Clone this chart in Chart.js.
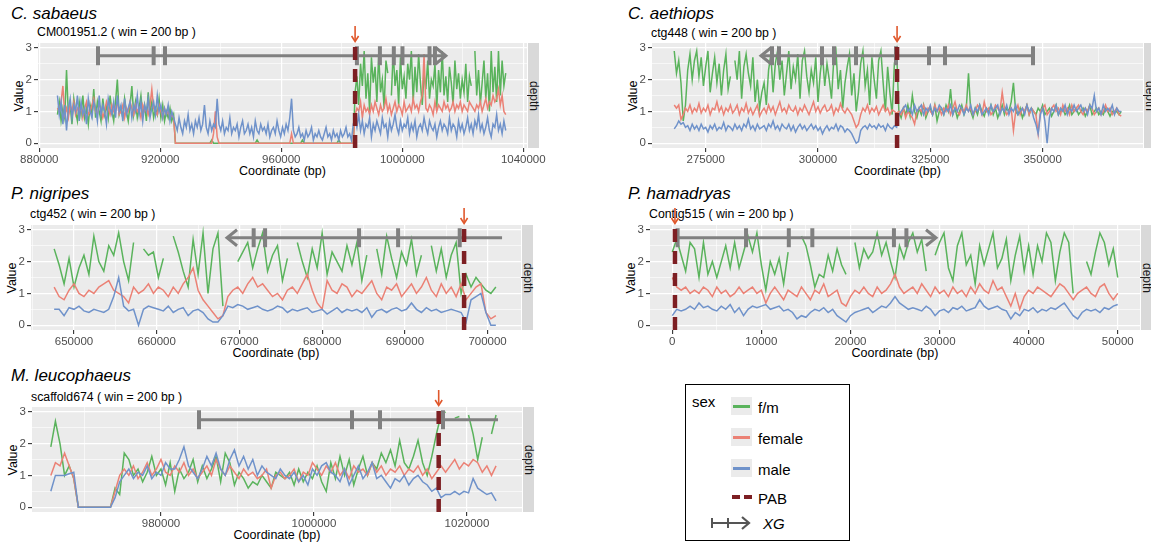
<!DOCTYPE html>
<html><head><meta charset="utf-8">
<script src="https://cdn.jsdelivr.net/npm/chart.js@4.4.1/dist/chart.umd.min.js"></script>
<style>
html,body{margin:0;padding:0;background:#ffffff;}
body{width:1151px;height:546px;position:relative;overflow:hidden;font-family:'Liberation Sans',Arial,Helvetica,sans-serif;}
canvas{position:absolute;}
.t{position:absolute;white-space:nowrap;line-height:1;color:#000;}
</style></head><body>
<script>
// ---------------- DATA ----------------
const SPECIES = ['C. sabaeus','C. aethiops','P. nigripes','P. hamadryas','M. leucophaeus'];
const CONTIGS = ['CM001951.2 ( win = 200 bp )','ctg448 ( win = 200 bp )','ctg452 ( win = 200 bp )','Contig515 ( win = 200 bp )','scaffold674 ( win = 200 bp )'];
const X_TITLE = 'Coordinate (bp)';
const Y_TITLE = 'Value';
const STRIP = 'depth';
const LEGEND_TITLE = 'sex';
const LEGEND_SERIES = ['f/m','female','male'];
const LEGEND_PAB = 'PAB';
const LEGEND_GENE = 'XG';

const Y_MAJOR = [0,1,2,3];
const Y_MINOR = [0.5,1.5,2.5];
const Y_MIN = -0.15, Y_MAX = 3.15;
const XG_Y = 2.75;

// Panel 1: C. sabaeus (windows every 600 bp from 886000)
const P1_START = 886000, P1_STEP = 600;
const P1_FM = [
 0.9,1.3,0.7,1.1,0.8,2.3,0.9,1.2,0.6,1.4, 1.0,0.7,1.3,0.9,1.5,0.8,1.1,0.6,1.2,0.9, 1.7,0.8,1.3,1.0,0.7,1.4,0.9,1.2,0.8,1.5,
 1.0,0.7,1.3,2.0,0.9,1.1,0.8,1.4,1.0,0.7, 1.2,1.8,0.9,1.3,0.8,1.1,1.5,0.9,1.2,0.7, 1.6,1.0,1.3,0.8,1.1,0.9,1.4,0.8,1.2,0.7, 1.0,0.8,1.1,0.7,0.9,
 0,0,0,0,0,0,0,0,0,0, 0,0,0,0,0,0,0,0,0,0, 0.1,0,0,0,0,0,0,0,0,0, 0,0,0,0,0,0,0,0,0,0, 0,0,0,0,0,0.1,0,0,0,0,
 0,0,0,0,0,0,0,0,0,0, 0,0,0,0,0,0,0,0,0,0, 0.1,0,0,0,0,0,0,0,0,0, 0,0,0,0,0,0,0,0,0,0, 0.1,0,0,0,0,0,0,0,0,
 1.6,2.1,1.2,2.5,1.8,2.9,1.4,2.2,1.0,2.7, 1.9,2.4,1.3,2.8,1.6,2.0,1.1,2.6,2.2,null, 1.5,2.9,1.8,2.3,1.2,2.7,1.7,2.1,1.4,2.5,
 2.0,2.9,1.3,2.4,1.6,2.8,1.9,1.2,2.2,1.7, 2.6,1.4,2.0,1.8,2.5,1.1,2.3,1.6,2.9,1.5, 2.1,1.3,2.4,1.9,1.2,2.6,1.7,2.2,1.4,2.0,
 1.6,2.5,1.3,2.1,1.8,null,2.9,1.5,2.3,1.2, 1.9,2.6,1.4,2.2,1.0,2.9,1.6,2.4,1.3,2.9, 1.5,2.6,1.8,2.2];
const P1_FEMALE = [
 1.1,1.0,1.3,1.8,0.9,1.1,0.8,1.2,1.0,1.3, 0.9,1.1,1.0,1.2,0.8,1.1,1.3,0.9,1.0,1.2, 1.4,1.0,0.9,1.2,1.1,0.8,1.0,1.3,1.1,0.9,
 1.2,1.0,1.1,1.3,0.9,1.0,1.2,0.8,1.1,1.0, 1.3,1.1,0.9,1.2,1.0,1.1,0.8,1.2,1.0,1.1, 0.9,1.2,1.7,1.1,1.0,0.9,1.2,1.0,0.8,1.1, 0.9,1.0,0.8,0.9,0.8,
 0,0,0,0,0,0,0,0,0,0, 0,0,0,0,0,0,0,0,0,0, 0,0.3,1.0,0.2,0,0,0,0,0,0, 0,0,0,0,0,0,0,0,0,0, 0,0,0,0,0,0,0,0,0,0,
 0,0,0,0,0,0,0,0,0,0, 0,0,0,0,0.3,0,0,0,0,0, 0,0,0,0,0,0,0,0,0,0, 0,0,0,0,0,0,0,0,0,0, 0,0,0,0,0,0,0,0,0,
 0.9,1.1,1.0,1.3,0.8,1.2,1.0,1.1,0.9,1.2, 1.0,1.3,1.1,0.9,1.2,1.0,1.1,1.4,1.0,1.2, 0.9,1.1,1.3,1.0,1.2,1.1,0.9,1.3,1.0,1.1,
 1.2,1.0,1.4,1.1,1.2,1.0,1.3,1.5,2.8,1.1, 1.0,1.2,1.1,0.9,1.3,1.0,1.2,1.1,1.0,1.3, 1.1,1.2,1.0,1.1,1.3,1.0,1.2,1.1,1.3,1.0,
 1.2,1.1,1.0,1.3,1.2,1.1,1.0,1.2,1.1,1.3, 1.0,1.2,1.4,1.1,1.3,1.2,1.5,1.3,1.4,1.7, 1.2,1.5,1.0,0.9];
const P1_MALE = [
 1.5,0.9,1.3,0.6,1.2,0.4,1.1,1.4,0.8,1.2, 1.0,1.5,0.7,1.3,0.9,1.1,0.6,1.4,1.0,0.8, 1.3,1.1,0.7,1.5,0.9,1.2,1.0,0.6,1.4,1.1,
 0.9,1.3,0.8,1.5,1.0,1.2,0.7,1.4,0.9,1.1, 1.3,0.8,1.2,1.0,1.5,0.9,1.3,0.7,1.2,1.0, 1.4,0.8,1.1,1.3,0.9,1.5,1.0,1.2,0.8,1.1, 0.9,1.2,0.7,1.0,0.8,
 0.6,0.4,0.8,0.5,0.3,0.7,0.5,0.9,0.4,0.6, 0.3,0.7,0.5,0.8,0.4,0.6,1.2,0.5,0.3,0.7, 0.4,0.6,0.5,1.4,0.6,0.4,0.7,0.3,0.5,0.4,
 0.8,0.3,0.5,0.4,0.6,0.2,0.5,0.7,0.3,0.4, 0.6,0.3,0.5,0.2,0.7,0.4,0.3,0.6,0.4,0.5, 0.3,0.6,0.2,0.4,0.5,0.3,0.7,0.4,0.2,0.5,
 0.3,0.6,0.4,0.8,1.4,0.4,0.2,0.3,0.5,0.2, 0.3,0.1,0.4,0.2,0.3,0.5,0.1,0.3,0.2,0.4, 0.2,0.1,0.3,0.5,0.2,0.3,0.1,0.4,0.2,0.3, 0.1,0.4,0.2,0.3,0.5,0.2,0.3,0.1,0.6,
 0.8,0.5,0.9,0.4,0.7,0.3,0.6,0.5,0.8,0.2, 0.6,0.4,0.7,0.5,0.3,0.8,0.5,0.6,0.2,0.7, 0.4,0.6,0.9,0.5,0.3,0.7,0.4,0.6,0.5,0.8,
 0.3,0.6,0.4,0.7,0.2,0.5,0.6,0.4,0.8,0.5, 0.3,0.7,0.5,0.4,0.6,0.2,0.5,0.7,0.4,0.6, 0.5,0.3,0.8,0.4,0.6,0.5,0.2,0.7,0.4,0.6,
 0.3,0.5,0.8,0.4,0.6,0.3,0.7,0.5,0.9,0.4, 0.6,0.3,0.5,0.8,0.4,0.2,0.6,0.5,0.9,0.4, 0.6,0.3,0.7,0.4];
const P1_X_MAJOR = [880000,920000,960000,1000000,1040000];
const P1_X_MINOR = [900000,940000,980000,1020000];
const P1_PAB = 984400;
const P1_XG_SPAN = [899400,1014400];
const P1_XG_TICKS = [899400,917800,921550,985000,992600,997200,1000060,1009000,1010800];

// Panel 2: C. aethiops (windows every 500 bp from 268000)
const P2_START = 268000, P2_STEP = 500;
const P2_FM = [
 2.9,2.2,2.6,1.9,0.7,1.2,2.3,2.8,2.0,2.6, 2.9,2.1,2.7,1.8,2.4,2.9,1.6,2.2,2.7,1.9, 2.5,1.5,2.3,2.8,1.7,2.1,null,2.6,2.0,2.9,
 1.4,2.4,2.8,2.2,1.8,2.7,1.3,2.0,1.1,1.6, 1.9,1.2,2.3,2.8,1.6,2.5,2.9,2.0,2.6,1.5, 2.2,2.9,1.7,2.4,2.0,2.8,1.4,2.6,2.9,2.1,
 1.6,2.3,1.9,2.7,1.3,2.2,2.8,1.8,2.5,2.0, 1.4,2.6,2.9,1.7,2.3,1.1,1.9,2.4,2.8,1.5, 2.2,1.0,1.6,2.5,2.9,1.8,2.3,1.2,2.7,2.0,
 1.4,2.6,2.9,1.9,1.0,2.4,1.6,0.9,2.5,2.9,
 1.0,0.8,1.1,0.9,1.2,0.85,1.5,1.0,0.8,1.1, 0.9,1.2,0.8,1.0,1.1,0.9,1.2,0.7,1.0,1.1, 0.9,1.2,1.0,1.7,0.9,1.1,0.8,1.0,1.2,0.9,
 1.1,2.2,1.0,0.8,1.1,0.9,1.2,1.0,0.85,1.1, 1.0,1.2,0.9,1.1,0.8,1.0,1.2,0.9,1.1,1.0, 1.3,1.9,1.0,0.9,1.1,0.8,1.0,1.2,0.9,1.1,
 1.0,0.9,1.1,1.0,1.2,0.9,1.0,1.1,0.85,1.0, 1.2,0.9,1.0,1.1,0.9,1.0,1.2,0.9,1.0,1.1, 0.9,1.0,1.1,0.85,1.0,1.2,0.9,1.0,1.1,0.9,
 1.0,0.9,1.1,1.0,0.85,1.0,0.95,1.0,0.9,1.0];
const P2_FEMALE = [
 1.2,1.1,1.2,0.75,0.9,1.1,1.0,1.2,0.95,1.1, 1.0,1.25,0.95,1.1,1.0,1.2,0.9,1.1,1.05,1.3, 1.0,1.15,0.9,1.1,1.0,1.2,0.95,1.05,1.2,0.9,
 1.1,1.0,1.25,0.95,1.1,0.9,1.05,1.2,0.85,1.0, 1.1,0.95,1.2,1.0,1.15,0.9,1.1,1.3,1.0,1.1, 0.95,1.2,1.05,1.0,1.15,0.9,1.1,1.0,1.2,1.05,
 0.9,1.1,1.3,1.0,1.15,0.95,1.1,1.2,1.0,1.05, 1.2,0.9,1.1,1.0,1.25,1.05,0.95,1.1,1.0,0.9, 0.7,0.5,0.6,0.9,1.1,1.0,1.2,0.95,1.1,1.0,
 1.15,0.9,1.05,1.2,1.0,1.1,0.9,1.05,1.0,0.95,
 1.0,0.9,1.1,0.8,1.0,0.9,0.8,0.6,1.0,1.1, 1.0,1.2,0.9,1.1,1.0,0.9,1.2,1.0,1.1,0.9, 1.1,1.0,1.2,0.9,1.1,1.3,1.0,0.9,1.1,1.0,
 1.2,1.0,1.1,0.9,1.0,1.2,1.1,0.9,1.3,1.0, 1.1,0.9,1.0,1.2,1.1,1.0,1.6,1.1,0.9,1.0, 1.1,0.4,1.0,1.2,0.9,1.1,1.0,1.2,0.9,1.1,
 1.0,0.9,0.3,1.0,1.1,1.2,0.9,1.0,1.1,1.2, 1.0,1.1,0.9,1.2,1.0,1.1,0.9,1.2,1.0,1.1, 1.2,1.0,0.9,1.1,1.0,1.2,1.1,0.9,1.0,1.1,
 0.9,1.0,1.2,1.0,1.1,0.9,1.0,1.1,0.9,0.85];
const P2_MALE = [
 0.45,0.55,0.7,0.6,0.65,0.5,0.55,0.4,0.6,0.45, 0.55,0.4,0.6,0.45,0.5,0.35,0.55,0.45,0.6,0.4, 0.5,0.45,0.65,0.4,0.55,0.5,0.4,0.6,0.45,0.55,
 0.4,0.6,0.5,0.75,0.45,0.55,0.4,0.6,0.45,0.5, 0.55,0.4,0.6,0.5,0.7,0.45,0.55,0.4,0.6,0.5, 0.45,0.6,0.4,0.55,0.35,0.5,0.6,0.45,0.55,0.4,
 0.5,0.6,0.45,0.55,0.4,0.5,0.3,0.45,0.55,0.4, 0.5,0.45,0.6,0.4,0.55,0.5,0.35,0.45,0.4,0.3, 0.15,0.0,0.05,0.4,0.5,0.55,0.45,0.6,0.5,0.55,
 0.45,0.6,0.5,0.55,0.4,0.6,0.5,0.45,0.55,0.5,
 0.9,1.0,1.1,1.2,1.0,1.1,0.9,1.2,1.0,1.1, 1.2,0.9,1.1,1.0,1.2,0.9,1.1,1.0,1.2,1.1, 0.9,1.1,1.0,1.2,0.9,1.1,1.0,1.2,1.1,0.9,
 1.1,1.0,1.2,0.9,1.1,1.0,1.2,0.9,1.0,1.1, 0.9,1.2,1.0,1.1,1.2,0.9,1.1,1.0,1.2,0.9, 1.1,1.0,1.2,0.9,1.0,1.1,0.9,1.2,1.0,1.1,
 0.8,0.6,0.3,0.9,1.1,0.7,0.0,0.8,1.1,1.0, 1.2,0.9,1.1,1.0,1.2,0.9,1.1,1.0,1.2,1.0, 1.1,1.2,1.0,1.1,0.9,1.2,1.1,1.5,1.0,1.1,
 0.9,1.2,1.0,1.1,1.0,1.2,0.9,1.1,1.0,1.0];
const P2_X_MAJOR = [275000,300000,325000,350000];
const P2_X_MINOR = [287500,312500,337500,362500];
const P2_PAB = 317600;
const P2_XG_SPAN = [287310,347860];
const P2_XG_TICKS = [289760,291320,300890,303560,308460,317360,324710,328270,347860];

// Panel 3: P. nigripes
const P3_START = 647600, P3_STEP = 600;
const P3_FM = [2.4,1.9,1.3,2.1,1.2,1.8,2.2,1.6,2.8,2.0, 1.7,2.5,2.2,2.9,2.0,1.4,2.6,null,2.4,2.2, 2.3,1.5,2.1,null,2.8,2.3,1.7,1.2,2.7,1.6, 2.9,1.0,2.4,2.9,0.6,null,null,2.0,2.3,2.6, 1.8,2.4,2.9,1.7,2.2,2.5,1.4,2.1,null,2.6,
 2.0,1.5,2.4,1.8,2.9,1.6,2.3,2.0,1.7,2.5, 1.9,2.6,1.4,2.2,null,2.4,1.6,2.8,2.1,1.5, 2.3,1.9,2.7,1.6,2.2,null,2.5,1.7,2.4,1.5, 2.2,2.6,1.0,1.6,1.2,1.5,1.3,1.1,1.0,1.2];
const P3_FEMALE = [1.2,0.9,0.8,1.1,1.3,1.0,0.9,1.1,1.0,1.2, 1.3,1.4,1.1,1.0,0.9,0.7,1.2,1.0,1.1,1.3, 1.0,1.2,1.1,0.9,1.2,1.0,1.3,1.5,1.8,1.1, 0.8,0.6,0.4,0.2,0.3,0.9,1.1,1.2,1.0,1.3, 1.5,1.2,1.3,1.1,0.9,1.0,0.8,1.1,1.2,1.0,
 1.3,1.6,1.1,0.7,0.5,1.4,1.1,1.0,1.3,1.2, 0.9,1.1,1.0,1.2,1.4,1.0,0.8,1.2,1.1,1.3, 0.9,1.1,1.3,1.0,1.2,1.5,1.1,0.9,1.3,1.0, 1.2,0.9,1.3,0.8,1.0,1.2,1.3,0.4,0.2,0.3];
const P3_MALE = [0.5,0.5,0.3,0.55,0.5,0.6,0.45,0.4,0.5,0.45, 0.4,0.5,0.9,1.5,0.6,0.45,0.5,0.0,0.5,0.6, 0.55,0.5,0.45,0.6,0.4,0.5,0.55,0.3,0.45,0.5, 0.4,0.2,0.1,0.1,0.3,0.6,0.55,0.65,0.6,0.5, 0.55,0.6,0.5,0.45,0.5,0.6,0.55,0.4,0.5,0.45,
 0.5,0.55,0.4,0.45,0.5,0.35,0.45,0.55,0.4,0.5, 0.45,0.5,0.4,0.55,0.25,0.45,0.5,0.4,0.5,0.55, 0.45,0.5,0.7,0.5,0.4,0.55,0.45,0.5,0.4,0.45, 0.5,0.45,0.4,0.1,0.8,0.9,1.0,0.4,0.0,0.0];
const P3_X_MAJOR = [650000,660000,670000,680000,690000,700000];
const P3_X_MINOR = [645000,655000,665000,675000,685000,695000];
const P3_PAB = 697160;
const P3_XG_SPAN = [668500,701750];
const P3_XG_TICKS = [671720,673100,684460,689180,696630];

// Panel 4: P. hamadryas
const P4_START = 0, P4_STEP = 500;
const P4_FM = [2.3,2.7,2.2,1.7,2.6,2.4,1.5,2.6,1.6,2.0, 1.5,2.0,2.5,1.8,2.6,1.8,2.3,2.8,2.3,2.9, 1.9,1.1,2.0,1.6,2.1,1.3,2.3,null,null,2.8, 2.5,1.9,1.2,1.6,1.5,2.2,1.7,2.4,1.9,1.6,
 null,2.6,1.8,2.4,2.1,2.3,2.9,2.2,2.6,2.0, 1.5,2.5,2.1,2.6,2.9,2.3,2.7,1.7,null,2.2, 2.6,2.9,1.8,1.4,2.5,2.9,1.9,2.2,1.3,2.5, 1.9,2.4,2.9,1.8,2.1,2.7,1.4,2.2,2.8,1.7, 2.5,1.6,2.5,2.0,2.9,2.6,1.4,2.3,2.9,2.6, 1.0,null,null,2.0,1.6,2.3,2.9,2.6,1.9,2.4,1.5];
const P4_FEMALE = [1.5,1.2,1.1,1.2,1.0,1.1,1.0,1.2,1.1,0.9, 1.2,1.0,1.1,0.9,1.0,1.2,1.0,1.1,1.2,1.0, 1.1,0.7,1.0,1.2,1.0,0.8,1.1,1.0,0.9,1.2, 1.0,0.8,1.1,1.0,1.3,0.9,1.0,1.1,0.7,0.6,
 0.9,1.1,1.0,1.2,1.0,0.9,1.2,1.0,1.1,1.3, 1.6,1.2,1.0,1.1,1.2,1.0,1.3,1.1,0.9,1.2, 1.0,1.1,0.9,1.2,1.0,1.1,0.9,1.2,1.0,1.3, 1.1,1.0,1.4,1.1,1.2,0.9,0.6,1.0,0.5,0.9, 1.1,1.0,1.2,1.1,1.0,0.9,1.1,1.3,1.2,1.0, 0.8,1.0,1.1,1.2,1.0,0.9,1.2,1.3,1.0,0.8,1.0];
const P4_MALE = [0.3,0.5,0.45,0.5,0.6,0.5,0.7,0.55,0.6,0.5, 0.45,0.6,0.5,0.65,0.4,0.55,0.3,0.5,0.6,0.55, 0.6,0.65,0.5,0.55,0.6,0.45,0.5,0.4,0.2,0.3, 0.25,0.4,0.5,0.45,0.55,0.4,0.5,0.3,0.2,0.1,
 0.3,0.4,0.45,0.5,0.55,0.4,0.5,0.6,0.55,0.7, 0.9,0.7,0.6,0.5,0.55,0.5,0.45,0.6,0.5,0.3, 0.45,0.5,0.4,0.55,0.5,0.6,0.45,0.5,0.55,0.8, 0.6,0.5,0.55,0.6,0.5,0.45,0.2,0.4,0.3,0.5, 0.45,0.55,0.4,0.5,0.45,0.55,0.5,0.6,0.7,0.5, 0.3,0.2,0.4,0.5,0.45,0.5,0.4,0.55,0.5,0.6,0.65];
const P4_X_MAJOR = [0,10000,20000,30000,40000,50000];
const P4_X_MINOR = [5000,15000,25000,35000,45000];
const P4_PAB = 300;
const P4_XG_SPAN = [600,29600];
const P4_XG_TICKS = [600,8280,13080,15720,24880,26280];

// Panel 5: M. leucophaeus
const P5_START = 965600, P5_STEP = 600;
const P5_FM = [1.9,2.7,2.0,1.0,1.3,0.9,0,0,0,0, 0,0,0,0,0.6,0.4,1.7,1.5,1.0,1.2, 0.8,1.1,1.6,1.0,1.2,0.7,1.4,0.5,1.2,0.9, 1.1,1.5,0.8,1.3,0.9,1.2,1.6,0.8,1.7,1.4, 0.7,1.1,0.9,0.6,0.8,0.7,1.0,0.8,0.6,1.1,
 1.0,0.9,1.1,0.7,1.2,0.8,1.1,0.9,1.3,0.8, 0.5,1.4,0.9,1.6,1.0,1.5,0.7,1.2,1.6,1.0, 1.4,1.2,1.7,1.4,1.8,1.3,2.1,1.4,1.2,1.6, 2.1,1.4,1.0,1.6,2.3,2.9,3.0,null,2.8,2.85, null,2.9,2.3,1.5,2.2,null,2.3,2.9];
const P5_FEMALE = [1.0,1.4,1.3,1.7,1.3,0.9,0,0,0,0, 0,0,0,0,0.5,1.0,1.2,1.0,1.3,0.9, 1.1,1.4,1.0,1.2,1.5,1.1,1.0,1.3,1.1,1.4, 1.0,1.2,0.9,1.1,1.3,1.0,1.5,1.2,1.0,1.3, 1.1,0.9,1.2,1.0,1.1,0.9,1.0,1.2,0.6,1.0,
 1.1,0.9,1.0,1.2,0.8,1.1,1.0,1.4,1.2,1.0, 1.3,1.1,1.4,1.0,1.2,0.9,1.3,1.1,1.2,1.0, 1.4,1.1,1.3,1.0,1.2,1.1,1.3,1.0,1.2,1.1, 1.3,1.0,1.2,0.9,1.1,1.3,1.1,1.3,1.5,1.2, 1.4,1.3,1.5,1.4,1.1,1.3,1.0,1.3];
const P5_MALE = [0.5,1.0,1.0,1.0,1.05,1.1,0,0,0,0, 0,0,0,0,0.3,0.8,1.0,1.2,0.9,1.1, 1.0,1.3,0.9,1.1,1.0,1.4,1.2,1.2,1.5,1.9, 1.3,1.1,0.9,1.2,1.6,1.3,1.7,1.2,1.0,1.5, 1.8,1.3,1.6,1.2,1.5,1.0,1.3,1.1,1.0,0.9,
 1.2,1.0,0.9,1.1,0.8,1.0,0.7,1.2,1.0,1.3, 1.4,1.1,1.0,0.8,1.2,0.7,1.0,1.3,0.9,1.1, 1.4,0.9,1.0,0.8,0.6,0.9,0.8,1.0,0.7,0.9, 1.0,0.8,0.7,0.5,0.6,0.3,0.4,0.4,0.5,0.4, 0.5,0.45,0.9,0.6,0.5,0.4,0.45,0.2];
const P5_X_MAJOR = [980000,1000000,1020000];
const P5_X_MINOR = [970000,990000,1010000];
const P5_PAB = 1016300;
const P5_XG_SPAN = [984970,1024050];
const P5_XG_TICKS = [984970,1004970,1008630,1016860];

// ---------------- STYLE / LAYOUT ----------------
const FAMILY = "'Liberation Sans', Arial, Helvetica, sans-serif";
const COL = {fm:'#5AB35C', female:'#EB8175', male:'#6F92CA', pab:'#7D1F23', gene:'#808080', arrow:'#E0582C', panel:'#EBEBEB', strip:'#D9D9D9', tick:'#4D4D4D'};

const PANELS = [
 {gray:[38,43,527,148], xmin:879570, xmax:1041230, start:P1_START, step:P1_STEP, fm:P1_FM, fe:P1_FEMALE, ma:P1_MALE, xMajor:P1_X_MAJOR, xMinor:P1_X_MINOR, pab:P1_PAB, span:P1_XG_SPAN, xgTicks:P1_XG_TICKS, head:{at:1, dir:1}, titleX:11, titleY:13, subY:32},
 {gray:[652,43,1143,148], xmin:263050, xmax:372340, start:P2_START, step:P2_STEP, fm:P2_FM, fe:P2_FEMALE, ma:P2_MALE, xMajor:P2_X_MAJOR, xMinor:P2_X_MINOR, pab:P2_PAB, span:P2_XG_SPAN, xgTicks:P2_XG_TICKS, head:{at:0, dir:-1}, titleX:628, titleY:13, subY:33},
 {gray:[31,225,521,330], xmin:644800, xmax:704040, start:P3_START, step:P3_STEP, fm:P3_FM, fe:P3_FEMALE, ma:P3_MALE, xMajor:P3_X_MAJOR, xMinor:P3_X_MINOR, pab:P3_PAB, span:P3_XG_SPAN, xgTicks:P3_XG_TICKS, head:{at:0, dir:-1}, titleX:11, titleY:193, subY:214},
 {gray:[650,225,1140,330], xmin:-2500, xmax:52500, start:P4_START, step:P4_STEP, fm:P4_FM, fe:P4_FEMALE, ma:P4_MALE, xMajor:P4_X_MAJOR, xMinor:P4_X_MINOR, pab:P4_PAB, span:P4_XG_SPAN, xgTicks:P4_XG_TICKS, head:{at:1, dir:1}, titleX:628, titleY:193, subY:214},
 {gray:[32,407,522,512], xmin:963140, xmax:1027190, start:P5_START, step:P5_STEP, fm:P5_FM, fe:P5_FEMALE, ma:P5_MALE, xMajor:P5_X_MAJOR, xMinor:P5_X_MINOR, pab:P5_PAB, span:P5_XG_SPAN, xgTicks:P5_XG_TICKS, head:null, titleX:11, titleY:375, subY:397}
];

function series(start, step, vals){ return vals.map((v,i)=>({x:start+i*step, y:v})); }

function txt(s, x, y, size, o){
  o = o || {};
  const d = document.createElement('div');
  d.className = 't'; d.textContent = s;
  d.style.left = x+'px'; d.style.top = y+'px'; d.style.fontSize = size+'px';
  if (o.italic) d.style.fontStyle = 'italic';
  if (o.color) d.style.color = o.color;
  const ax = o.center ? '-50%' : '0';
  d.style.transform = 'translate('+ax+',-50%)' + (o.rot ? ' rotate('+o.rot+'deg)' : '');
  document.body.appendChild(d);
  return d;
}
function box(x,y,w,h,css){
  const d=document.createElement('div');
  d.style.cssText='position:absolute;left:'+x+'px;top:'+y+'px;width:'+w+'px;height:'+h+'px;'+(css||'');
  document.body.appendChild(d); return d;
}

const bgPlugin = {
  id:'panelbg',
  beforeDraw(chart){
    const a = chart.chartArea, ctx = chart.ctx;
    ctx.save(); ctx.fillStyle = COL.panel;
    ctx.fillRect(a.left, a.top, a.right-a.left, a.bottom-a.top);
    ctx.restore();
  }
};
const annoPlugin = {
  id:'anno',
  afterDatasetsDraw(chart, args, opts){
    const ctx = chart.ctx, a = chart.chartArea, xs = chart.scales.x, ys = chart.scales.y;
    if (opts.head){
      const tip = xs.getPixelForValue(opts.head.x), yy = ys.getPixelForValue(opts.geneY), d = opts.head.dir;
      ctx.save(); ctx.strokeStyle = COL.gene; ctx.lineWidth = 3; ctx.lineJoin='miter';
      ctx.beginPath(); ctx.moveTo(tip - d*10, yy-8); ctx.lineTo(tip, yy); ctx.lineTo(tip - d*10, yy+8); ctx.stroke();
      ctx.restore();
    }
    const px = xs.getPixelForValue(opts.pab);
    ctx.save(); ctx.strokeStyle = COL.arrow; ctx.lineWidth = 1.6;
    ctx.beginPath(); ctx.moveTo(px, a.top-17); ctx.lineTo(px, a.top-2); ctx.stroke();
    ctx.beginPath(); ctx.moveTo(px-3.5, a.top-7); ctx.lineTo(px, a.top-1.5); ctx.lineTo(px+3.5, a.top-7); ctx.stroke();
    ctx.restore();
  }
};

function buildPanel(p, idx){
  const L=p.gray[0], T=p.gray[1], R=p.gray[2], B=p.gray[3];
  const YW = 22, XH = 22;
  const cx=L-40, cy=T-24, cw=R-L+70, ch=B-T+50;
  // texts under the canvas so the PAB arrow stays in front
  txt(SPECIES[idx], p.titleX, p.titleY, 17, {italic:true});
  txt(CONTIGS[idx], L-1, p.subY, 12.3);
  txt(Y_TITLE, L-19, (T+B)/2, 12.5, {center:true, rot:-90});
  txt(X_TITLE, (L+R)/2, B+23, 12.5, {center:true});
  box(R+1, T, 11, B-T, 'background:'+COL.strip+';');
  txt(STRIP, R+6.5, (T+B)/2, 12, {center:true, rot:90, color:'#1A1A1A'});

  const cv=document.createElement('canvas');
  cv.width=cw; cv.height=ch;
  cv.style.left=cx+'px'; cv.style.top=cy+'px'; cv.style.width=cw+'px'; cv.style.height=ch+'px';
  document.body.appendChild(cv);
  const majX = new Set(p.xMajor), majY = new Set(Y_MAJOR);
  const xTicks = p.xMajor.concat(p.xMinor).sort((a,b)=>a-b);
  const yTicks = Y_MAJOR.concat(Y_MINOR).sort((a,b)=>a-b);
  const line = (data,color,order)=>({data, borderColor:color, backgroundColor:color, borderWidth:1.5, pointRadius:0, tension:0, fill:false, order});
  const datasets = [
    line(series(p.start,p.step,p.fm), COL.fm, 3),
    line(series(p.start,p.step,p.fe), COL.female, 2),
    line(series(p.start,p.step,p.ma), COL.male, 1),
    {data:[{x:p.pab,y:Y_MIN},{x:p.pab,y:Y_MAX}], borderColor:COL.pab, borderWidth:4.5, borderDash:[13,9], pointRadius:0, order:0},
    {data:[{x:p.span[0],y:XG_Y},{x:p.span[1],y:XG_Y}], borderColor:COL.gene, borderWidth:3, pointRadius:0, order:0},
    {data:p.xgTicks.map(v=>({x:v,y:XG_Y})), showLine:false, pointStyle:'line', pointRadius:9.5, pointRotation:90, pointBorderWidth:4, pointBorderColor:COL.gene, pointBackgroundColor:COL.gene, order:0}
  ];
  const tickFont = {family:FAMILY, size:11.5};
  new Chart(cv, {
    type:'line',
    data:{datasets},
    options:{
      responsive:false, animation:false, events:[], devicePixelRatio:1,
      layout:{padding:{left:40-YW, right:30, top:24, bottom:26-XH}, autoPadding:false},
      plugins:{legend:{display:false}, tooltip:{enabled:false},
        anno:{pab:p.pab, geneY:XG_Y, head: p.head ? {x:p.span[p.head.at], dir:p.head.dir} : null}},
      scales:{
        x:{type:'linear', min:p.xmin, max:p.xmax, offset:false,
          afterBuildTicks:s=>{ s.ticks = xTicks.map(v=>({value:v})); },
          afterFit:s=>{ s.height = XH; s.paddingLeft = 0; s.paddingRight = 0; },
          ticks:{autoSkip:false, maxRotation:0, minRotation:0, padding:1, color:COL.tick, font:tickFont,
            callback:v=> majX.has(v) ? String(v) : ''},
          grid:{color:'#FFFFFF', lineWidth:c=> (c.tick && majX.has(c.tick.value)) ? 1.2 : 0.6,
            drawTicks:true, tickLength:4, tickWidth:1.1,
            tickColor:c=> (c.tick && majX.has(c.tick.value)) ? '#333333' : 'rgba(0,0,0,0)'},
          border:{display:false}
        },
        y:{type:'linear', min:Y_MIN, max:Y_MAX,
          afterBuildTicks:s=>{ s.ticks = yTicks.map(v=>({value:v})); },
          afterFit:s=>{ s.width = YW; s.paddingTop = 0; s.paddingBottom = 0; },
          ticks:{autoSkip:false, padding:2, color:COL.tick, font:tickFont,
            callback:v=> majY.has(v) ? String(v) : ''},
          grid:{color:'#FFFFFF', lineWidth:c=> (c.tick && majY.has(c.tick.value)) ? 1.2 : 0.6,
            drawTicks:true, tickLength:4, tickWidth:1.1,
            tickColor:c=> (c.tick && majY.has(c.tick.value)) ? '#333333' : 'rgba(0,0,0,0)'},
          border:{display:false}
        }
      }
    },
    plugins:[bgPlugin, annoPlugin]
  });
}

PANELS.forEach(buildPanel);

// legend
(function(){
  box(685, 384, 165, 157, 'border:1.5px solid #000;box-sizing:border-box;');
  txt(LEGEND_TITLE, 692, 401, 15);
  const cols = [COL.fm, COL.female, COL.male];
  const rows = [406, 437, 468];
  LEGEND_SERIES.forEach((name,i)=>{
    box(731, rows[i]-9, 21, 18, 'background:#EBEBEB;');
    box(733, rows[i]-1.5, 17, 3, 'background:'+cols[i]+';');
    txt(name, 758, rows[i]+1, 15);
  });
  box(732, 495, 8, 4, 'background:'+COL.pab+';');
  box(744, 495, 8, 4, 'background:'+COL.pab+';');
  txt(LEGEND_PAB, 758, 498, 15);
  const ns='http://www.w3.org/2000/svg';
  const svg=document.createElementNS(ns,'svg');
  svg.setAttribute('width','48'); svg.setAttribute('height','20');
  svg.style.cssText='position:absolute;left:708px;top:513px;';
  svg.innerHTML='<line x1="4" y1="10" x2="41" y2="10" stroke="#555" stroke-width="2.2"/>'+
    '<line x1="4" y1="5" x2="4" y2="15" stroke="#555" stroke-width="2"/>'+
    '<line x1="20" y1="5" x2="20" y2="15" stroke="#555" stroke-width="2"/>'+
    '<polyline points="34,4 41,10 34,16" fill="none" stroke="#555" stroke-width="2.2"/>';
  document.body.appendChild(svg);
  txt(LEGEND_GENE, 763, 523, 15, {italic:true});
})();
</script>
</body></html>
